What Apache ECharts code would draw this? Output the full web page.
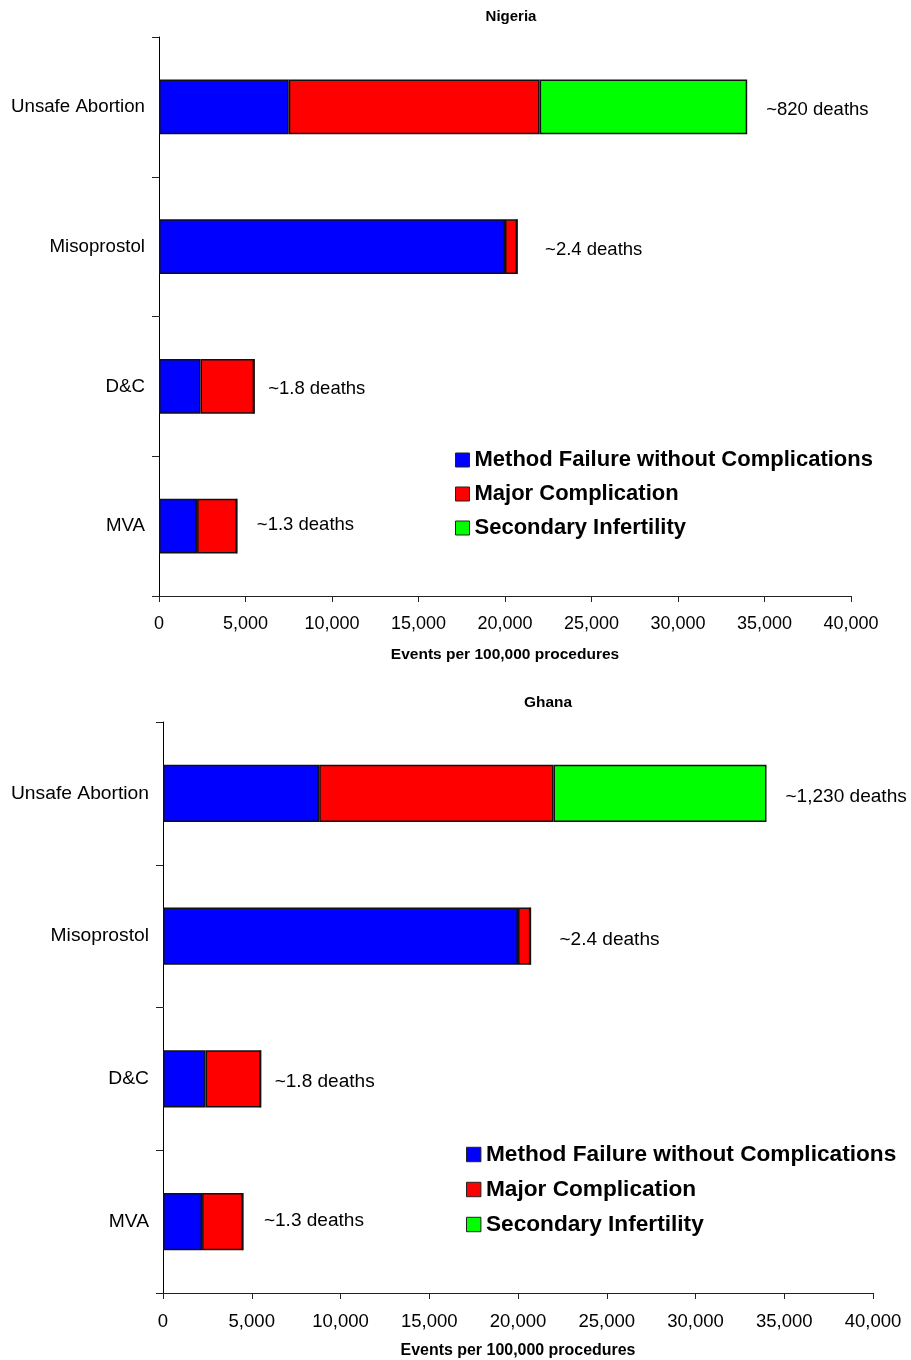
<!DOCTYPE html>
<html>
<head>
<meta charset="utf-8">
<script src="https://cdn.jsdelivr.net/npm/echarts@6/dist/echarts.min.js"></script>
<style>
  html, body { margin: 0; padding: 0; background: #fff; }
  #chart { width: 911px; height: 1360px; }
</style>
</head>
<body>
<div id="chart"></div>
<script>
// Procedure categories, top to bottom
const categories = ['Unsafe Abortion', 'Misoprostol', 'D&C', 'MVA'];
const seriesNames = ['Method Failure without Complications', 'Major Complication', 'Secondary Infertility'];

// Nigeria: events per 100,000 procedures
const nigeriaMethodFailure = [7500, 20000, 2400, 2200];
const nigeriaMajorComplication = [14500, 700, 3100, 2300];
const nigeriaSecondaryInfertility = [12000, 0, 0, 0];
const nigeriaDeaths = ['~820 deaths', '~2.4 deaths', '~1.8 deaths', '~1.3 deaths'];

// Ghana: events per 100,000 procedures
const ghanaMethodFailure = [8800, 20000, 2400, 2200];
const ghanaMajorComplication = [13200, 700, 3100, 2300];
const ghanaSecondaryInfertility = [12000, 0, 0, 0];
const ghanaDeaths = ['~1,230 deaths', '~2.4 deaths', '~1.8 deaths', '~1.3 deaths'];

// Value axis
const axisMin = 0;
const axisMax = 40000;
const axisStep = 5000;
const axisTitle = 'Events per 100,000 procedures';

// Styling
const FONT = '"Liberation Sans", Arial, Helvetica, sans-serif';
const seriesColors = ['#0000ff', '#ff0000', '#00ff00'];

const panels = [
  {
    title: 'Nigeria',
    values: [nigeriaMethodFailure, nigeriaMajorComplication, nigeriaSecondaryInfertility],
    deaths: nigeriaDeaths,
    grid: { left: 159, top: 37, width: 692, height: 559 },
    titleCenter: 506,
    titleTop: 4,
    legendPos: { left: 450, top: 444 },
    legendGap: 12,
    barWidth: '39%',
    labelGap: [19, 28, 14, 20],
    labelShift: [3, 3, 3, -1],
    tickMargin: 19,
    nameGap: 51,
    scale: 1
  },
  {
    title: 'Ghana',
    values: [ghanaMethodFailure, ghanaMajorComplication, ghanaSecondaryInfertility],
    deaths: ghanaDeaths,
    grid: { left: 163, top: 722, width: 710, height: 572 },
    titleCenter: 543,
    titleTop: 690,
    legendPos: { left: 461, top: 1138 },
    legendGap: 12,
    barWidth: '40%',
    labelGap: [19, 29, 14, 21],
    labelShift: [3, 4, 3, -1],
    tickMargin: 19,
    nameGap: 50,
    scale: 1.03
  }
];

function lastFilledSegment(values, ci) {
  let last = 0;
  values.forEach((vals, si) => { if (vals[ci] > 0) last = si; });
  return last;
}

const option = {
  animation: false,
  backgroundColor: '#ffffff',
  title: [],
  legend: [],
  grid: [],
  xAxis: [],
  yAxis: [],
  series: []
};

panels.forEach((p, idx) => {
  const s = p.scale;
  option.grid.push(Object.assign({ containLabel: false }, p.grid));
  option.title.push({
    text: p.title,
    left: p.titleCenter,
    textAlign: 'center',
    top: p.titleTop,
    textStyle: { fontFamily: FONT, fontSize: 15 * s, fontWeight: 'bold', color: '#000' }
  });
  option.legend.push({
    data: seriesNames,
    orient: 'vertical',
    left: p.legendPos.left,
    top: p.legendPos.top,
    itemWidth: 14 * s,
    itemHeight: 14 * s,
    itemGap: p.legendGap,
    selectedMode: false,
    icon: 'rect',
    itemStyle: { borderColor: '#222', borderWidth: 1 },
    textStyle: { fontFamily: FONT, fontSize: 22 * s, fontWeight: 'bold', color: '#000', lineHeight: 22 * s }
  });
  option.xAxis.push({
    type: 'value',
    gridIndex: idx,
    min: axisMin,
    max: axisMax,
    interval: axisStep,
    name: axisTitle,
    nameLocation: 'middle',
    nameGap: p.nameGap,
    nameTextStyle: { fontFamily: FONT, fontSize: 15.5 * s, fontWeight: 'bold', color: '#000' },
    axisLine: { show: true, lineStyle: { color: '#222', width: 1 } },
    axisTick: { show: true, length: 6, lineStyle: { color: '#222' } },
    axisLabel: {
      fontFamily: FONT, fontSize: 18 * s, color: '#000', margin: p.tickMargin,
      formatter: v => v.toLocaleString('en-US')
    },
    splitLine: { show: false }
  });
  option.yAxis.push({
    type: 'category',
    gridIndex: idx,
    data: categories,
    inverse: true,
    axisLine: { show: true, lineStyle: { color: '#000', width: 1 } },
    axisTick: { show: true, length: 7, lineStyle: { color: '#222' } },
    axisLabel: { fontFamily: FONT, fontSize: 18.7 * s, color: '#000', margin: 14 },
    splitLine: { show: false }
  });
  p.values.forEach((vals, si) => {
    option.series.push({
      type: 'bar',
      name: seriesNames[si],
      xAxisIndex: idx,
      yAxisIndex: idx,
      stack: 'events' + idx,
      barWidth: p.barWidth,
      itemStyle: { color: seriesColors[si], borderColor: '#111', borderWidth: 1.5 },
      emphasis: { disabled: true },
      data: vals.map((v, ci) => {
        const item = { value: v };
        if (lastFilledSegment(p.values, ci) === si) {
          item.label = {
            show: true,
            position: 'right',
            distance: p.labelGap[ci],
            offset: [0, p.labelShift[ci]],
            formatter: p.deaths[ci],
            fontFamily: FONT,
            fontSize: 18.5 * s,
            color: '#000'
          };
        }
        return item;
      })
    });
  });
});

const chart = echarts.init(document.getElementById('chart'), null, { renderer: 'canvas' });
chart.setOption(option);
</script>
</body>
</html>
